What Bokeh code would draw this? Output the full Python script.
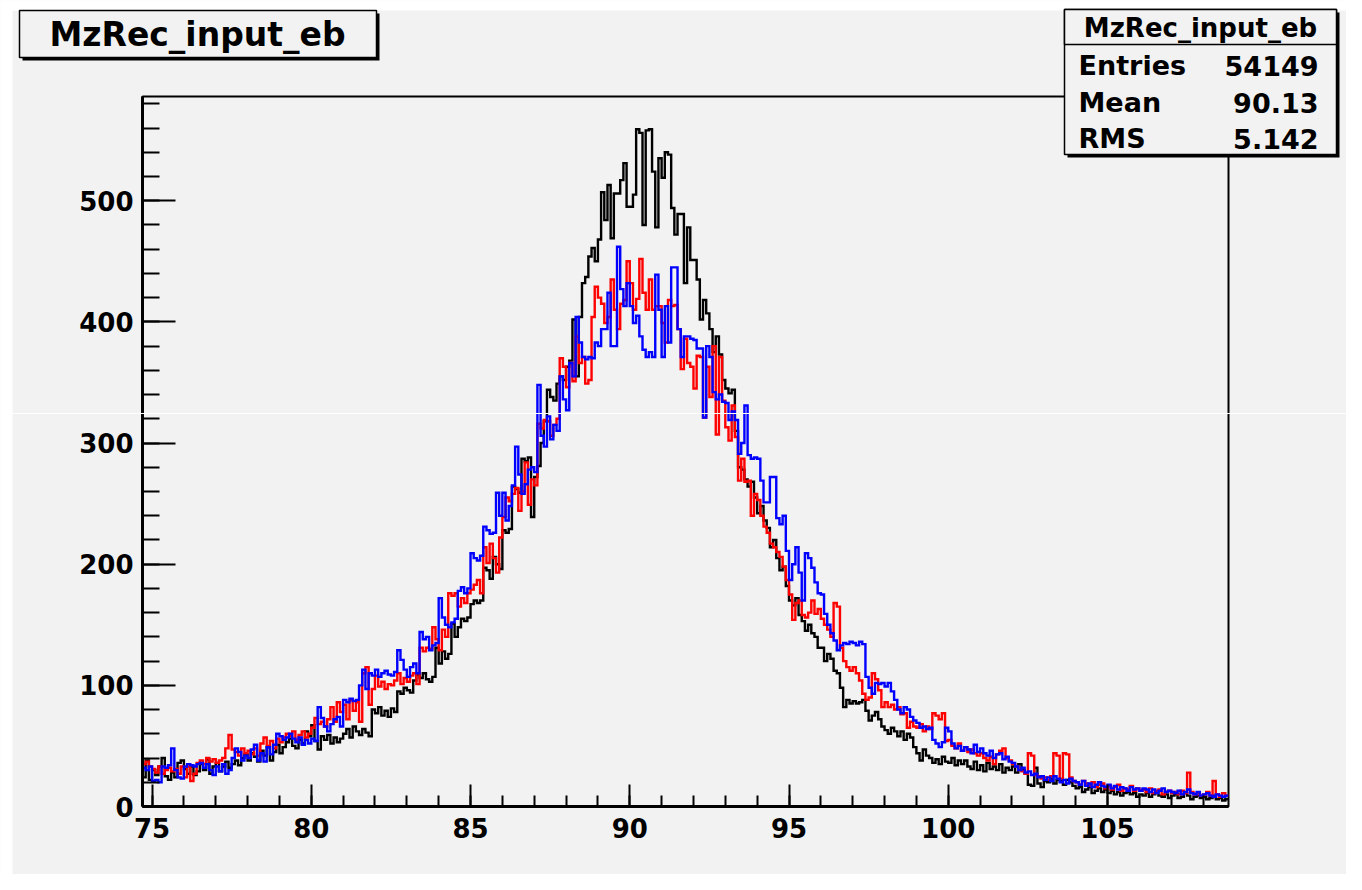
import numpy as np
from bokeh.plotting import figure
from bokeh.models import Range1d, SingleIntervalTicker, GridBox
from bokeh.core.properties import value
from bokeh.embed import file_html
from bokeh.resources import INLINE

# ---------------- data ----------------
BIN_START = 74.7
BIN_WIDTH = 0.1
X_MIN, X_MAX = 74.7, 108.8
Y_MAX = 586

black_counts = [
    24, 38, 22,
    30, 26, 33, 40, 25, 22, 28, 24, 36, 38,
    31, 27, 33, 26, 29, 35, 30, 39, 27, 33,
    36, 29, 33, 37, 32, 35, 38, 34, 40, 43,
    38, 44, 41, 37, 46, 42, 49, 38, 45, 51,
    44, 49, 53, 56, 50, 48, 55, 52, 62, 58,
    67, 54, 47, 58, 55, 59, 52, 57, 53, 56,
    60, 64, 57, 66, 62, 59, 64, 61, 58, 80,
    77, 82, 75, 79, 74, 81, 78, 95, 93, 98,
    96, 94, 104, 109, 106, 110, 105, 103, 107, 131,
    118, 128, 122, 126, 151, 140, 148, 155, 153, 156,
    167, 170, 168, 170, 197, 195, 188, 206, 200, 196,
    228, 226, 229, 264, 262, 259, 287, 285, 288, 239,
    272, 281, 300, 318, 344, 338, 335, 349, 355, 352,
    363, 368, 402, 355, 404, 432, 437, 454, 461, 450,
    468, 507, 484, 513, 469, 506, 506, 517, 531, 495,
    495, 505, 559, 556, 480, 558, 559, 524, 478, 535,
    519, 540, 538, 494, 472, 489, 489, 432, 478, 451,
    451, 435, 402, 418, 407, 394, 375, 388, 373, 352,
    345, 341, 344, 310, 280, 278, 270, 264, 268, 255,
    242, 248, 236, 230, 214, 220, 205, 195, 198, 182,
    170, 166, 172, 158, 153, 145, 150, 143, 140, 131,
    131, 120, 126, 122, 112, 110, 98, 82, 88, 85,
    87, 85, 86, 88, 79, 71, 75, 78, 72, 66,
    63, 60, 65, 62, 58, 62, 55, 60, 57, 49,
    44, 38, 47, 42, 40, 36, 39, 35, 41, 37,
    36, 40, 34, 38, 35, 38, 33, 31, 37, 30,
    34, 29, 36, 31, 33, 30, 35, 28, 32, 30,
    33, 28, 35, 30, 27, 18, 17, 32, 19, 16,
    21, 20, 23, 19, 22, 21, 18, 22, 20, 17,
    15, 16, 12, 14, 16, 11, 13, 15, 12, 14,
    11, 13, 10, 12, 9, 11, 12, 10, 11, 8,
    10, 9, 11, 8, 10, 12, 9, 8, 10, 7,
    9, 10, 7, 8, 11, 9, 6, 8, 9, 7,
    8, 6, 7, 9, 6, 7, 5, 6,
]

red_counts = [
    35, 37, 33,
    31, 28, 33, 27, 30, 32, 29, 31, 27, 33,
    24, 33, 21, 27, 36, 38, 35, 40, 37, 39,
    36, 38, 40, 48, 59, 47, 45, 42, 48, 44,
    46, 43, 48, 42, 52, 57, 50, 54, 48, 56,
    53, 57, 60, 58, 62, 55, 59, 62, 57, 60,
    65, 73, 68, 70, 66, 72, 82, 70, 86, 78,
    84, 72, 88, 79, 86, 70, 110, 115, 84, 97,
    108, 99, 103, 97, 101, 100, 104, 110, 101, 106,
    103, 108, 110, 101, 131, 128, 131, 130, 148, 138,
    129, 146, 140, 176, 174, 176, 165, 172, 168, 176,
    179, 183, 187, 176, 214, 201, 217, 205, 193, 222,
    239, 255, 252, 258, 263, 244, 260, 284, 249, 270,
    265, 316, 312, 319, 318, 306, 315, 320, 370, 363,
    346, 366, 351, 388, 366, 371, 349, 352, 404, 429,
    420, 415, 399, 404, 435, 410, 394, 415, 418, 450,
    432, 410, 419, 452, 424, 410, 435, 410, 413, 413,
    399, 383, 418, 413, 414, 394, 361, 386, 366, 363,
    345, 372, 371, 321, 363, 338, 380, 307, 371, 335,
    313, 302, 331, 305, 269, 287, 268, 269, 240, 258,
    253, 240, 231, 226, 217, 214, 210, 206, 198, 187,
    175, 154, 168, 170, 158, 156, 160, 170, 159, 163,
    155, 150, 146, 140, 168, 165, 131, 120, 115, 112,
    115, 110, 104, 93, 88, 90, 110, 105, 96, 82,
    86, 82, 84, 80, 82, 76, 77, 65, 70, 66,
    65, 68, 62, 66, 64, 77, 75, 72, 77, 54,
    55, 50, 48, 52, 46, 49, 45, 47, 44, 42,
    44, 40, 38, 41, 35, 43, 46, 48, 40, 38,
    35, 33, 30, 29, 27, 44, 42, 26, 25, 23,
    24, 22, 25, 44, 42, 23, 44, 43, 24, 21,
    20, 18, 21, 19, 17, 20, 16, 18, 19, 15,
    17, 14, 16, 18, 13, 15, 14, 17, 13, 15,
    13, 14, 12, 15, 11, 13, 14, 10, 12, 13,
    11, 12, 10, 13, 11, 28, 12, 10, 11, 9,
    10, 12, 9, 21, 10, 8, 11, 9,
]

blue_counts = [
    32, 30, 33,
    21, 22, 20, 33, 32, 34, 48, 30, 24, 23,
    33, 35, 34, 33, 35, 36, 32, 35, 30, 26,
    33, 29, 35, 27, 30, 40, 48, 45, 38, 42,
    40, 47, 51, 38, 44, 37, 49, 43, 51, 60,
    58, 55, 57, 60, 56, 53, 57, 51, 55, 52,
    56, 54, 82, 73, 66, 62, 68, 72, 74, 66,
    88, 86, 89, 87, 88, 100, 113, 97, 110, 108,
    113, 107, 110, 112, 109, 108, 111, 129, 121, 113,
    107, 115, 118, 110, 144, 138, 140, 129, 133, 135,
    172, 156, 150, 148, 152, 155, 178, 181, 176, 180,
    209, 205, 203, 207, 231, 228, 225, 226, 259, 240,
    259, 236, 248, 265, 297, 274, 258, 266, 278, 280,
    276, 348, 306, 297, 322, 303, 315, 310, 355, 336,
    327, 366, 355, 404, 383, 371, 369, 371, 370, 383,
    380, 394, 394, 424, 380, 380, 462, 427, 413, 432,
    413, 399, 405, 388, 377, 371, 375, 371, 439, 410,
    371, 413, 383, 445, 445, 394, 371, 388, 388, 386,
    385, 378, 378, 321, 380, 371, 342, 336, 340, 334,
    333, 319, 326, 319, 291, 300, 331, 290, 287, 288,
    287, 269, 251, 251, 272, 272, 238, 233, 240, 211,
    187, 200, 214, 193, 170, 209, 205, 197, 185, 176,
    175, 159, 150, 143, 137, 129, 133, 135, 134, 136,
    135, 133, 136, 134, 107, 98, 93, 102, 101, 102,
    99, 102, 95, 88, 80, 77, 82, 80, 74, 71,
    69, 65, 66, 64, 65, 55, 52, 49, 53, 65,
    62, 52, 48, 50, 46, 49, 47, 44, 51, 45,
    48, 44, 42, 46, 40, 43, 44, 39, 41, 37,
    36, 33, 30, 32, 28, 29, 26, 27, 24, 25,
    22, 24, 21, 25, 23, 20, 22, 19, 23, 21,
    20, 18, 21, 17, 19, 16, 18, 20, 17, 16,
    18, 15, 17, 14, 16, 15, 13, 16, 14, 15,
    13, 15, 14, 12, 14, 11, 13, 15, 12, 13,
    12, 11, 13, 10, 12, 14, 11, 10, 12, 9,
    10, 11, 9, 8, 10, 9, 8, 9,
]

series_colors = ["black", "red", "blue"]
title_text = "MzRec_input_eb"
stats_names = ["Entries", "Mean", "RMS"]
stats_values = ["54149", "90.13", "5.142"]

# ---------------- styling ----------------
BG = "#f2f2f2"
FONT = "DejaVu Sans"
W, H = 1346, 874
ML, MR, MT, MB = 142, 118, 96, 68

p = figure(width=W, height=H, title=None, output_backend="svg", toolbar_location=None,
           x_range=Range1d(X_MIN, X_MAX), y_range=Range1d(0, Y_MAX),
           min_border_left=ML, min_border_right=MR, min_border_top=MT, min_border_bottom=MB,
           background_fill_color=BG, border_fill_color=BG,
           outline_line_color="black", outline_line_width=2)
p.grid.visible = False

p.xaxis.ticker = SingleIntervalTicker(interval=5, num_minor_ticks=5)
p.yaxis.ticker = SingleIntervalTicker(interval=100, num_minor_ticks=5)
for ax in (p.xaxis[0], p.yaxis[0]):
    ax.axis_line_width = 3
    ax.axis_line_color = "black"
    ax.major_tick_out = 0
    ax.minor_tick_out = 0
    ax.major_tick_line_width = 2
    ax.minor_tick_line_width = 2
    ax.major_label_text_font = FONT
    ax.major_label_text_font_style = "bold"
    ax.major_label_text_font_size = "26px"
    ax.major_label_text_color = "black"
p.xaxis.major_tick_in = 22
p.xaxis.minor_tick_in = 11
p.xaxis.major_label_standoff = 11
p.yaxis.major_tick_in = 33
p.yaxis.minor_tick_in = 17
p.yaxis.major_label_standoff = 9

# histograms
for counts, col in zip([black_counts, red_counts, blue_counts], series_colors):
    n = len(counts)
    edges = BIN_START + BIN_WIDTH * np.arange(n + 1)
    ys = list(counts) + [counts[-1]]
    p.step(x=edges, y=ys, mode="after", line_color=col, line_width=2.4, line_join="miter")

# ---------------- overlay canvas (pixel coordinates, y down) for the ROOT boxes ----------------
ov = figure(width=W, height=H, title=None, output_backend="svg", toolbar_location=None,
            x_range=Range1d(0, W), y_range=Range1d(H, 0),
            x_axis_location=None, y_axis_location=None, min_border=0,
            background_fill_alpha=0, border_fill_alpha=0, outline_line_color=None)
ov.grid.visible = False
for fig in (p, ov):
    try:
        fig.frame_align = False
    except Exception:
        pass

# white page edge strips (the ROOT canvas starts a little inside the picture)
ov.quad(left=[0, 0], right=[W, 12], top=[0, 0], bottom=[10, H], fill_color="white", line_color=None)

# thin white scan artifact across the reference
ov.segment(x0=[12], y0=[413], x1=[W], y1=[413], line_color="white", line_width=1)

def box(x0, y0, x1, y1, fill, line_color=None, lw=0):
    ov.quad(left=[x0], right=[x1], top=[y0], bottom=[y1], fill_color=fill,
            line_color=line_color, line_width=lw)

def label(x, y, text, size, align="center"):
    ov.text(x=[x], y=[y], text=[text], text_font=value(FONT), text_font_style="bold",
            text_font_size=value(size), text_align=align, text_baseline="middle",
            text_color="black")

# title box with shadow
box(22, 13, 379, 60, "black")
box(19, 10, 376, 57, BG, "black", 1.5)
label(197, 34, title_text, "33px")

# stats box with shadow
box(1067, 12, 1339, 157, "black")
box(1064, 9, 1336, 154, BG, "black", 1.5)
box(1064, 9, 1336, 44, BG, "black", 1.5)
label(1200, 27, title_text, "26px")
row_y = [65, 102, 138]
for name, val, yy in zip(stats_names, stats_values, row_y):
    label(1078, yy, name, "27px", align="left")
    label(1318, yy, val, "27px", align="right")

layout = GridBox(children=[(p, 0, 0), (ov, 0, 0)])
open("out.html", "w").write(file_html(layout, INLINE))
